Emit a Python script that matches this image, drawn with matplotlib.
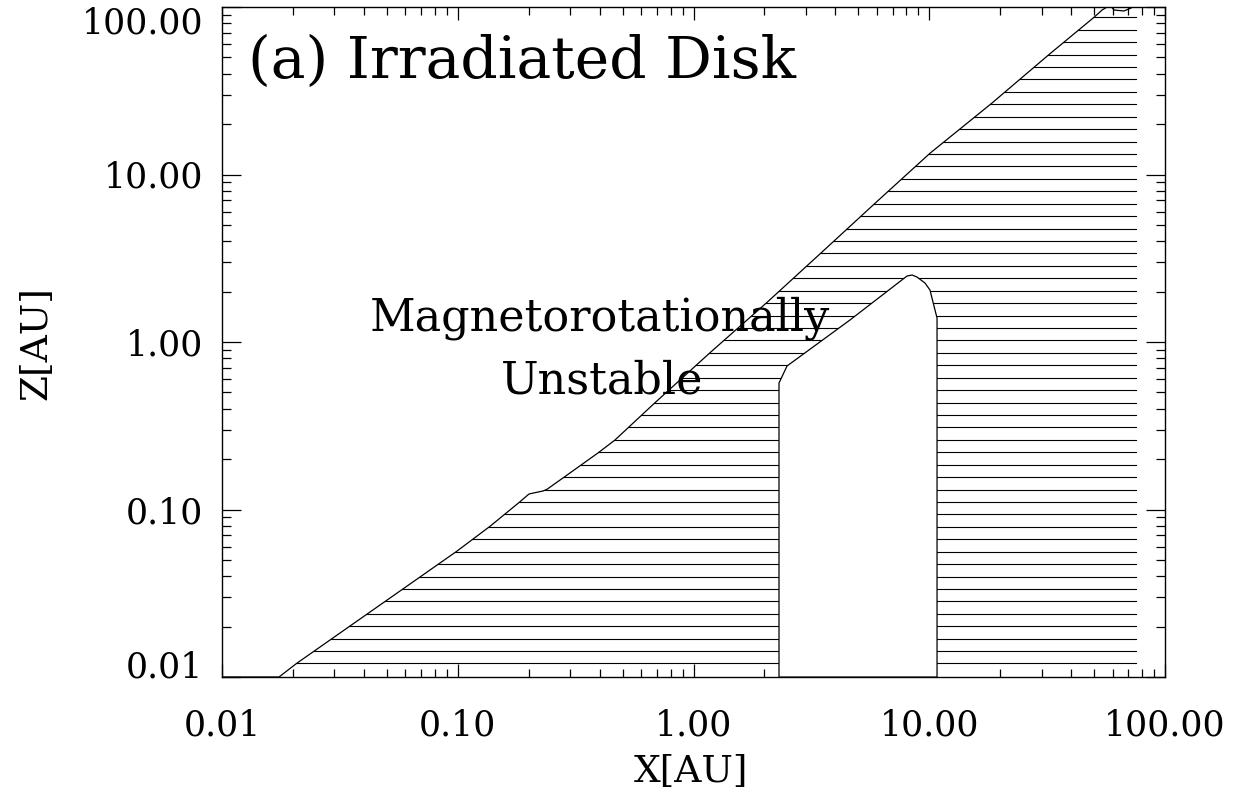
import numpy as np
import matplotlib
matplotlib.use('Agg')
import matplotlib.pyplot as plt
from matplotlib.patches import Polygon
from matplotlib.ticker import FixedLocator, FixedFormatter, LogLocator, NullFormatter

plt.rcParams['font.family'] = 'DejaVu Serif'

# Upper surface of the hatched (dead) layer, X and Z in AU
surf_x = [0.01, 0.01745, 0.02075, 0.09898, 0.1370, 0.1837, 0.2006, 0.2299, 0.2391,
          0.2804, 0.3947, 0.4645, 0.6866, 1.175, 2.044, 3.474, 5.887, 10.07,
          18.40, 32.30, 50.0, 54.1, 56.8, 58.45, 60.8, 67.0, 71.8, 76.1]
surf_z = [0.01, 0.01, 0.01207, 0.05628, 0.07936, 0.1113, 0.1238, 0.1290, 0.1320,
          0.1548, 0.2183, 0.2600, 0.4342, 0.8631, 1.717, 3.400, 6.730, 13.39,
          26.61, 52.2, 86.8, 95.96, 100.0, 102.8, 95.9, 94.7, 98.6, 105.6]
x_outer = 76.1

# Unhatched pocket inside the layer
pocket_x = [2.305, 2.305, 2.493, 4.61, 8.05, 8.45, 8.87, 9.59, 10.07, 10.79, 10.79]
pocket_z = [0.01, 0.569, 0.719, 1.353, 2.477, 2.512, 2.443, 2.25, 2.044, 1.39, 0.01]

major_ticks = [0.01, 0.1, 1.0, 10.0, 100.0]
tick_labels = ['0.01', '0.10', '1.00', '10.00', '100.00']

fig = plt.figure(figsize=(12.46, 7.95), dpi=100)
ax = fig.add_axes([222/1246, 1 - 677/795, (1165 - 222)/1246, (677 - 7)/795])
ax.set_xscale('log')
ax.set_yscale('log')
ax.set_xlim(0.01, 100)
ax.set_ylim(0.01, 100)

# horizontal line fill, evenly spaced in log Z
first, step = 0.0806, 0.0742
levels = 10 ** (-2 + first + step * np.arange(53))
outer = Polygon(list(zip(surf_x, surf_z)) + [(x_outer, 105.6), (x_outer, 0.01)],
                closed=True, facecolor='none', edgecolor='none')
ax.add_patch(outer)
hl = ax.hlines(levels, 0.01, x_outer, colors='black', linewidth=0.8)
hl.set_clip_path(outer)

ax.add_patch(Polygon(list(zip(pocket_x, pocket_z)), closed=True,
                     facecolor='white', edgecolor='black', linewidth=0.9, zorder=3))
ax.plot(surf_x, surf_z, color='black', linewidth=0.9, zorder=3)

for axis in (ax.xaxis, ax.yaxis):
    axis.set_major_locator(FixedLocator(major_ticks))
    axis.set_major_formatter(FixedFormatter(tick_labels))
    axis.set_minor_locator(LogLocator(base=10, subs=np.arange(2, 10)))
    axis.set_minor_formatter(NullFormatter())

ax.tick_params(which='both', direction='in', top=True, right=True,
               width=0.9, labelsize=25)
ax.tick_params(axis='x', which='major', length=9.5, pad=23)
ax.tick_params(axis='x', which='minor', length=5.5)
ax.tick_params(axis='y', which='major', length=13.5, pad=13.7)
ax.tick_params(axis='y', which='minor', length=6.5)
for s in ax.spines.values():
    s.set_linewidth(1.0)

fig.canvas.draw()
ylabels = ax.get_yticklabels()
ylabels[0].set_va('baseline')
ylabels[-1].set_va('top')

ax.text(0.0276, 0.894, '(a) Irradiated Disk', transform=ax.transAxes,
        fontsize=42, ha='left', va='baseline', zorder=5)
ax.text(0.4013, 1.179, 'Magnetorotationally', fontsize=32, ha='center',
        va='baseline', zorder=5)
ax.text(0.4111, 0.4953, 'Unstable', fontsize=32, ha='center',
        va='baseline', zorder=5)

ax.set_xlabel('X[AU]', fontsize=27, va='baseline')
ax.xaxis.set_label_coords(0.4973, -0.1567)
ax.set_ylabel('Z[AU]', fontsize=27, va='baseline')
ax.yaxis.set_label_coords(-0.1866, 0.4985)

fig.savefig('out.png', dpi=100)
